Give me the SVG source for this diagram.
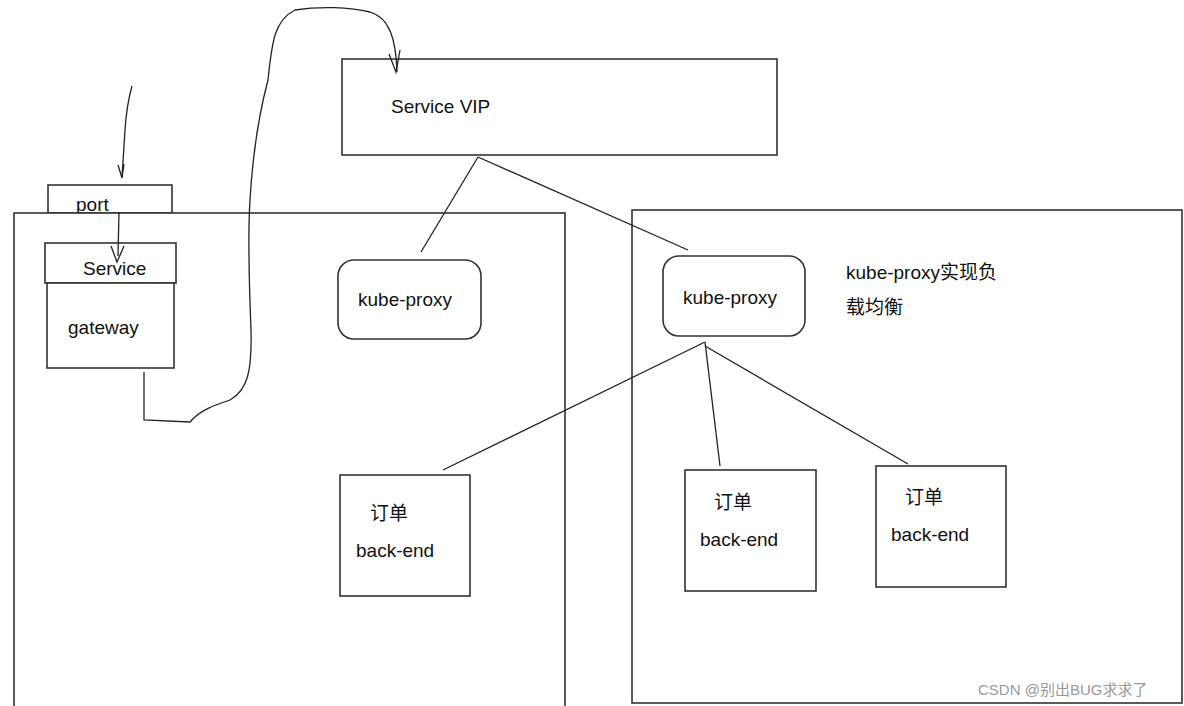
<svg xmlns="http://www.w3.org/2000/svg" width="1184" height="706" viewBox="0 0 1184 706">
<style>
.b{fill:#fff;stroke:#333;stroke-width:1.6}
.c{fill:none;stroke:#222;stroke-width:1.3}
.t{font-family:"Liberation Sans","Noto Sans CJK SC",sans-serif;font-size:19px;fill:#111}
.w{font-family:"Liberation Sans","Noto Sans CJK SC",sans-serif;font-size:15px;fill:#999}
</style>
<rect width="1184" height="706" fill="#fff"/>
<g id="port"><rect class="b" x="48" y="185" width="124" height="28"/><text class="t" x="76" y="211">port</text></g>
<g id="node-left"><rect class="b" x="14" y="213" width="551" height="500"/></g>
<g id="node-right"><rect class="b" x="632" y="210" width="550" height="493"/>
<text class="t" x="846" y="279">kube-proxy实现负</text><text class="t" x="846" y="314">载均衡</text></g>
<g id="service"><rect class="b" x="45" y="243" width="131" height="40"/><text class="t" x="83" y="275">Service</text></g>
<g id="gateway"><rect class="b" x="47" y="283" width="127" height="85"/><text class="t" x="68" y="334">gateway</text></g>
<g id="service-vip"><rect class="b" x="342" y="59" width="435" height="96"/><text class="t" x="391" y="113">Service VIP</text></g>
<g id="kube-proxy-left"><rect class="b" x="338" y="260" width="143" height="79" rx="16"/><text class="t" x="358" y="306">kube-proxy</text></g>
<g id="kube-proxy-right"><rect class="b" x="663" y="256" width="142" height="80" rx="16"/><text class="t" x="683" y="304">kube-proxy</text></g>
<g id="backend-1"><rect class="b" x="340" y="475" width="130" height="121"/><text class="t" x="370" y="520">订单</text><text class="t" x="356" y="557">back-end</text></g>
<g id="backend-2"><rect class="b" x="685" y="470" width="131" height="121"/><text class="t" x="714" y="509">订单</text><text class="t" x="700" y="546">back-end</text></g>
<g id="backend-3"><rect class="b" x="876" y="466" width="130" height="121"/><text class="t" x="905" y="504">订单</text><text class="t" x="891" y="541">back-end</text></g>
<g id="connectors">
<path class="c" d="M478 157 L421 252"/>
<path class="c" d="M478 157 L688 250"/>
<path class="c" d="M705 342 L443 470"/>
<path class="c" d="M705 342 L720 466"/>
<path class="c" d="M705 346 L908 464"/>
<path class="c" d="M132 86 C128 100 126 115 125 130 C124 145 123 160 122 177"/>
<path class="c" d="M118 165 L122 178 L124 164"/>
<path class="c" d="M119 212 L118 256"/>
<path class="c" d="M111 246 L117 262 L124 246"/>
<path class="c" d="M144 372 L144 420 L190 422 C200 410 215 405 230 400 C248 390 252 370 251 330 C249 280 248 230 250 200 C253 150 260 110 268 80 C272 40 275 20 295 10 C320 6 350 7 370 12 C390 18 396 40 397 72"/>
<path class="c" d="M389 54 L396 72 L400 50"/>
</g>
<text class="w" x="978" y="695">CSDN @别出BUG求求了</text>
</svg>
